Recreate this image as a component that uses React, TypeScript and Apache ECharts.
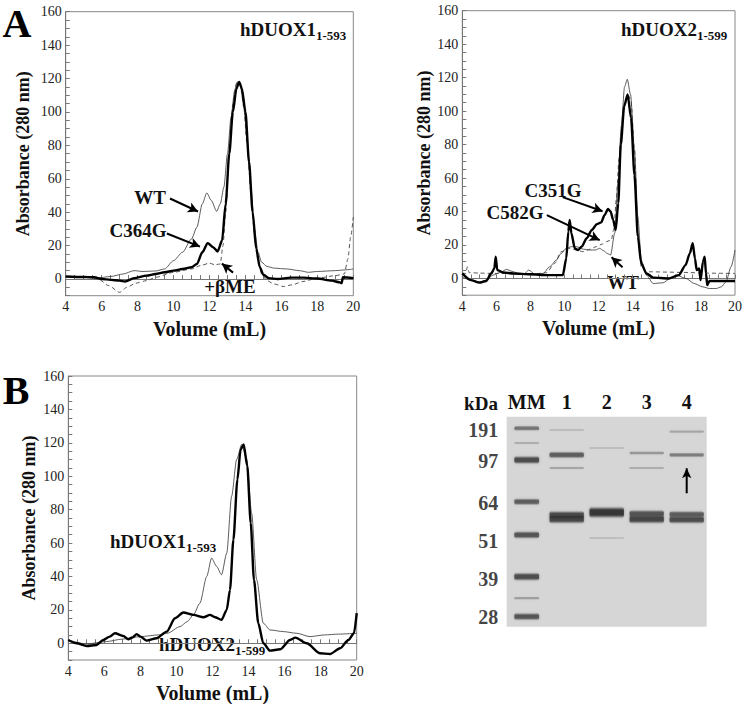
import React, { useEffect, useRef } from "react";
import * as echarts from "echarts";

const SERIF = '"Liberation Serif", "DejaVu Serif", "Times New Roman", serif';

// ---------- Panel A (left): hDUOX1 1-593 ----------
const a1WtVol = [4, 5, 5.7, 6.5, 7.2, 7.8, 8.3, 9, 9.5, 10, 10.5, 11, 11.3, 11.6, 11.85, 12.1, 12.4, 12.6, 12.8, 13.0, 13.2, 13.4, 13.55, 13.7, 13.9, 14.1, 14.3, 14.5, 14.7, 14.9, 15.2, 15.6, 16.3, 17, 17.5, 18, 19, 19.6, 20];
const a1WtAbs = [1.5, 1.2, 0.5, 1.5, 3, 5, 4.5, 4.8, 6, 11, 16, 24, 31, 45, 51.5, 47, 40.5, 45, 55, 75, 97, 113, 118, 116, 105, 82, 55, 30, 16, 10, 7.5, 6.5, 6, 5, 4, 4.5, 5, 5.5, 6];
const a1MutVol = [4, 5, 5.6, 6, 6.5, 7, 7.3, 7.8, 8.5, 9, 9.5, 10, 10.5, 11, 11.3, 11.6, 11.9, 12.2, 12.45, 12.7, 12.9, 13.1, 13.3, 13.5, 13.65, 13.8, 14.0, 14.2, 14.4, 14.6, 14.8, 15.0, 15.3, 15.8, 16.5, 17.2, 18, 18.8, 19.25, 19.35, 19.42, 20];
const a1MutAbs = [1.5, 1.2, 1, 0, -0.5, -1, -1.5, 0.5, 2, 3, 4, 5, 6, 7, 9, 16, 21.5, 19, 16.5, 23, 45, 75, 100, 114, 118, 114, 100, 70, 40, 18, 7, 2.5, 0.5, 0, 0.8, 0.8, 0.3, -1, -2, -2.5, 1, 0.5];
const a1MeVol = [4, 5, 5.8, 6.4, 7, 7.4, 7.9, 8.5, 9, 10, 11, 11.5, 12, 12.3, 12.6, 12.75, 12.9, 13.1, 13.3, 13.5, 13.6, 13.75, 13.9, 14.1, 14.3, 14.5, 14.7, 14.9, 15.2, 15.6, 16.1, 16.6, 17.2, 18, 19, 19.5, 19.7, 19.85, 20];
const a1MeAbs = [1.5, 1, 0, -4, -8, -5, -2.5, -1, 1, 4, 6, 8, 9.5, 8.5, 9, 20, 40, 75, 105, 117, 118, 115, 103, 80, 52, 27, 11, 3, -1, -3, -4.5, -3.5, -1.5, 0.5, 2, 3, 12, 25, 37];

// ---------- Panel A (right): hDUOX2 1-599 ----------
const a2C351Vol = [4, 4.5, 5.0, 5.4, 5.7, 5.88, 5.96, 6.05, 6.4, 7, 8, 9, 9.9, 10.1, 10.22, 10.3, 10.4, 10.6, 10.8, 11.0, 11.3, 11.6, 11.9, 12.15, 12.35, 12.55, 12.7, 12.85, 13.0, 13.15, 13.3, 13.5, 13.7, 13.9, 14.1, 14.3, 14.5, 14.8, 15.2, 16.1, 16.7, 17.1, 17.35, 17.52, 17.65, 17.75, 17.9, 17.98, 18.12, 18.22, 18.3, 18.37, 18.5, 19, 20];
const a2C351Abs = [3, -1, -2.5, -1.5, 3, 6, 13, 5, 3.6, 3, 2.5, 2, 2, 12, 28, 35, 27, 18, 17, 19, 24, 29, 32.5, 33.5, 38, 41.5, 40, 35, 29, 45, 80, 103, 110, 96, 62, 25, 9, 3, 0.5, 0, 2, 8, 15, 21, 12, 5, 6, -1, 10, 13, 3, -4, -1.5, -1.5, -1.5];
const a2WtVol = [4, 4.5, 5.03, 5.4, 5.8, 6.2, 6.6, 7.0, 7.3, 7.6, 7.9, 8.25, 8.74, 9.13, 9.52, 9.8, 10.1, 10.4, 10.7, 11.1, 11.47, 11.8, 12.06, 12.3, 12.5, 12.7, 12.94, 13.13, 13.33, 13.52, 13.68, 13.87, 14.1, 14.3, 14.5, 14.8, 15.2, 15.77, 16.2, 16.55, 17.13, 17.6, 18.1, 18.5, 18.9, 19.2, 19.47, 19.77, 20];
const a2WtAbs = [1, -1, -2, -1, 2, 3.5, 5.4, 4, 3, 2.6, 5, 2.6, 3, 7, 11, 15, 18, 19, 19, 17.5, 17, 17, 18, 16.5, 15, 14, 27, 57, 91, 114.5, 119, 110, 77, 37, 11, 2, -3, -2.6, 0, 2, 0, -3, -5, -6, -6, -5, -2, 7, 17];
const a2C582Vol = [4, 4.2, 4.3, 4.4, 5, 6, 7, 8, 8.94, 9.42, 9.8, 10.3, 10.7, 11.08, 11.5, 11.86, 12.2, 12.45, 12.74, 12.9, 13.03, 13.2, 13.33, 13.52, 13.72, 13.9, 14.1, 14.3, 14.5, 14.75, 15, 16, 17, 18, 19, 20];
const a2C582Abs = [3, 3, 7, 3.5, 3.2, 3, 3, 2.5, 3.4, 9, 16, 18, 17, 16, 17.5, 19, 20.5, 22, 23, 30, 47, 72, 87, 105, 110, 106, 77, 27, 7, 4.5, 4, 3.8, 3.6, 3.3, 3.1, 3];

// ---------- Panel B ----------
const bDuox1Vol = [4, 5, 6.1, 7, 8, 9, 9.5, 10.2, 10.6, 10.94, 11.3, 11.68, 11.95, 12.23, 12.5, 12.79, 13.06, 13.34, 13.62, 13.9, 14.17, 14.45, 14.82, 15.19, 15.93, 16.67, 17.41, 18.2, 19, 20];
const bDuox1Abs = [2, -0.4, 1, 2.5, 4, 5, 6, 10, 13, 17, 24, 40, 51, 46, 41, 54, 88, 110, 119, 110, 78, 38, 12, 8, 7, 6, 4, 5, 5.5, 6];
const bDuox2Vol = [4, 4.46, 5.02, 5.57, 5.94, 6.3, 6.59, 7.05, 7.33, 7.55, 7.8, 8.0, 8.35, 8.9, 9.46, 9.92, 10.38, 10.94, 11.5, 11.86, 12.14, 12.5, 12.79, 12.97, 13.16, 13.38, 13.56, 13.73, 13.93, 14.12, 14.3, 14.54, 14.82, 15.19, 15.75, 16.3, 16.6, 17.23, 17.97, 18.52, 19.08, 19.54, 19.85, 20];
const bDuox2Abs = [2, 0, -1.6, -1, 2, 4, 6, 4.4, 2.4, 3.5, 5.5, 4, 1.6, 3, 7, 15, 18.4, 17, 15.6, 17, 15.6, 14, 20, 32, 62, 98, 116, 119, 106, 72, 38, 12, 0, -4.4, -3.6, 2, 3.4, 0, -6, -6.4, -3, 2, 6, 18];

// ---------- Gel ----------
const gelLanes = ["MM", "1", "2", "3", "4"];
const markerKDa = [191, 97, 64, 51, 39, 28];
const markerRf = [0.063, 0.211, 0.411, 0.592, 0.773, 0.954];
const bandLane = [0, 0, 0, 0, 0, 0, 0, 0, 1, 1, 1, 1, 1, 2, 2, 2, 3, 3, 3, 3, 4, 4, 4, 4];
const bandRf = [0.055, 0.125, 0.206, 0.405, 0.563, 0.762, 0.864, 0.952, 0.063, 0.182, 0.244, 0.468, 0.488, 0.149, 0.456, 0.578, 0.173, 0.244, 0.462, 0.488, 0.071, 0.182, 0.465, 0.49];
const bandAmount = [0.55, 0.2, 0.8, 0.7, 0.75, 0.8, 0.3, 0.75, 0.12, 0.7, 0.25, 0.8, 0.85, 0.1, 1.0, 0.1, 0.35, 0.2, 0.75, 0.85, 0.25, 0.5, 0.7, 0.8];

const zip = (xs: number[], ys: number[]) => xs.map((x, i) => [x, ys[i]]);

function chromAxes(gi: number, yGap: number) {
  const x = {
    gridIndex: gi,
    type: "value",
    min: 4,
    max: 20,
    interval: 0.5,
    axisLine: { show: true, lineStyle: { color: "#777", width: 1 } },
    axisTick: { show: true, inside: true, length: 4, lineStyle: { color: "#777" } },
    axisLabel: {
      formatter: (v: number) => (v % 2 === 0 ? String(v) : ""),
      fontFamily: SERIF,
      fontSize: 14,
      color: "#222",
      margin: 4,
    },
    splitLine: { show: false },
    name: "Volume (mL)",
    nameLocation: "middle",
    nameGap: 23,
    nameTextStyle: { fontFamily: SERIF, fontWeight: "bold", fontSize: 20, color: "#111" },
  };
  const y = {
    gridIndex: gi,
    type: "value",
    min: -10,
    max: 160,
    interval: 5,
    axisLine: { show: true, lineStyle: { color: "#777", width: 1 } },
    axisTick: { show: true, inside: true, length: 4, lineStyle: { color: "#777" } },
    axisLabel: {
      formatter: (v: number) => (v >= 0 && v % 20 === 0 ? String(v) : ""),
      fontFamily: SERIF,
      fontSize: 14,
      color: "#222",
      margin: 4,
    },
    splitLine: { show: false },
    name: "Absorbance (280 nm)",
    nameLocation: "middle",
    nameGap: yGap,
    nameTextStyle: { fontFamily: SERIF, fontWeight: "bold", fontSize: 18, color: "#111" },
  };
  return { x, y };
}

const thin = { color: "#333", width: 0.8, type: "solid" };
const thick = { color: "#000", width: 2.4, type: "solid" };
const dashed = { color: "#444", width: 0.9, type: [4, 3] };

function lineSeries(gi: number, xs: number[], ys: number[], style: any, name: string, extra: any = {}) {
  return {
    type: "line",
    name,
    xAxisIndex: gi,
    yAxisIndex: gi,
    data: zip(xs, ys),
    showSymbol: false,
    symbol: "none",
    smooth: 0.25,
    smoothMonotone: "x",
    lineStyle: style,
    silent: true,
    z: style.width > 2 ? 4 : 3,
    ...extra,
  };
}

function arrows(pairs: number[][][]) {
  return {
    markLine: {
      silent: true,
      symbol: ["none", "arrow"],
      symbolSize: [8, 10],
      lineStyle: { color: "#000", width: 2, type: "solid" },
      label: { show: false },
      emphasis: { disabled: true },
      data: pairs.map((p) => [{ coord: p[0] }, { coord: p[1] }]),
    },
  };
}

const bold18 = { fontFamily: SERIF, fontWeight: "bold", fontSize: 19, fill: "#111" };

function label(text: string, x: number, y: number) {
  return { type: "text", x, y, style: { text, ...bold18, align: "center", verticalAlign: "middle" } };
}

function subLabel(main: string, sub: string, x: number, y: number) {
  return {
    type: "text",
    x,
    y,
    style: {
      text: `{m|${main}}{s|${sub}}`,
      fill: "#111",
      align: "left",
      verticalAlign: "top",
      rich: {
        m: { fontFamily: SERIF, fontWeight: "bold", fontSize: 19, lineHeight: 25, verticalAlign: "middle", fill: "#111" },
        s: { fontFamily: SERIF, fontWeight: "bold", fontSize: 13, lineHeight: 25, verticalAlign: "bottom", fill: "#111" },
      },
    },
  };
}

export default function App() {
  const ref = useRef<HTMLDivElement>(null);
  useEffect(() => {
    if (!ref.current) return;
    const chart = echarts.init(ref.current, undefined, { renderer: "svg" });
    const A1 = chromAxes(0, 34);
    const A2 = chromAxes(1, 28);
    const B = chromAxes(2, 30);

    const gelData = bandLane.map((l, i) => [l, bandRf[i], bandAmount[i]]);

    const option: any = {
      animation: false,
      backgroundColor: "#fff",
      grid: [
        { left: 65.7, top: 11.7, width: 287.6, height: 284, show: true, borderColor: "#888", borderWidth: 1, backgroundColor: "transparent" },
        { left: 462.3, top: 10.7, width: 273.4, height: 284.5, show: true, borderColor: "#888", borderWidth: 1, backgroundColor: "transparent" },
        { left: 68.3, top: 376, width: 288.4, height: 284, show: true, borderColor: "#888", borderWidth: 1, backgroundColor: "transparent" },
        { left: 506.7, top: 416.7, width: 200, height: 210, show: true, borderWidth: 0, backgroundColor: "#d6d6d6" },
      ],
      xAxis: [
        A1.x,
        A2.x,
        B.x,
        {
          gridIndex: 3,
          type: "category",
          data: gelLanes,
          position: "top",
          axisLine: { show: false },
          axisTick: { show: false },
          axisLabel: { interval: 0, fontFamily: SERIF, fontWeight: "bold", fontSize: 20, color: "#111", margin: 5 },
        },
      ],
      yAxis: [A1.y, A2.y, B.y, { gridIndex: 3, type: "value", min: 0, max: 1, inverse: true, show: false }],
      series: [
        // Panel A left
        lineSeries(0, a1MeVol, a1MeAbs, dashed, "+βME"),
        lineSeries(0, a1WtVol, a1WtAbs, thin, "WT"),
        lineSeries(
          0,
          a1MutVol,
          a1MutAbs,
          thick,
          "C364G",
          arrows([
            [[9.8, 48.2], [11.36, 40.4]],
            [[9.63, 27.2], [11.47, 19.4]],
            [[13.31, 3.8], [12.69, 9.2]],
          ])
        ),
        // Panel A right
        lineSeries(1, a2C582Vol, a2C582Abs, dashed, "C582G"),
        lineSeries(1, a2WtVol, a2WtAbs, thin, "WT"),
        lineSeries(
          1,
          a2C351Vol,
          a2C351Abs,
          thick,
          "C351G",
          arrows([
            [[9.89, 48.6], [12.23, 40.2]],
            [[8.96, 37.8], [12.06, 22.9]],
            [[13.4, 6.75], [12.76, 12.7]],
          ])
        ),
        // Panel B
        lineSeries(2, bDuox1Vol, bDuox1Abs, thin, "hDUOX1"),
        lineSeries(2, bDuox2Vol, bDuox2Abs, thick, "hDUOX2"),
        // Gel bands
        {
          type: "custom",
          xAxisIndex: 3,
          yAxisIndex: 3,
          data: gelData,
          silent: true,
          clip: false,
          renderItem: (params: any, api: any) => {
            const lane = api.value(0);
            const rf = api.value(1);
            const amt = api.value(2);
            const c = api.coord([lane, rf]);
            const laneW = api.size([1, 0])[0];
            const w = laneW * (lane === 0 ? 0.62 : 0.86);
            const h = 2.5 + 9 * amt * amt;
            const a = 0.06 + 0.82 * amt;
            const col = (al: number) => `rgba(40,40,40,${al})`;
            return {
              type: "rect",
              shape: { x: c[0] - w / 2, y: c[1] - h / 2, width: w, height: h, r: Math.min(3, h / 2) },
              style: {
                fill: new echarts.graphic.LinearGradient(0, 0, 0, 1, [
                  { offset: 0, color: col(0) },
                  { offset: 0.3, color: col(a) },
                  { offset: 0.7, color: col(a) },
                  { offset: 1, color: col(0) },
                ]),
                shadowBlur: 3,
                shadowColor: col(a * 0.5),
              },
            };
          },
        },
        // Marker lane labels
        {
          type: "scatter",
          xAxisIndex: 3,
          yAxisIndex: 3,
          data: markerRf.map((rf, i) => [0, rf, markerKDa[i]]),
          symbolSize: 1,
          itemStyle: { color: "transparent" },
          silent: true,
          label: {
            show: true,
            position: "left",
            distance: 28,
            formatter: (p: any) => String(p.value[2]),
            fontFamily: SERIF,
            fontWeight: "bold",
            fontSize: 20,
            color: "#111",
          },
        },
        // Arrow in lane 4
        {
          type: "line",
          xAxisIndex: 3,
          yAxisIndex: 3,
          silent: true,
          data: [
            { value: [4, 0.365], symbol: "none" },
            { value: [4, 0.245], symbol: "arrow", symbolSize: [7, 10] },
          ],
          showSymbol: true,
          lineStyle: { color: "#000", width: 2 },
          itemStyle: { color: "#000" },
        },
      ],
      graphic: [
        { type: "text", x: 17, y: 23, style: { text: "A", fontFamily: SERIF, fontWeight: "bold", fontSize: 40, fill: "#000", align: "center", verticalAlign: "middle" } },
        { type: "text", x: 16, y: 390, style: { text: "B", fontFamily: SERIF, fontWeight: "bold", fontSize: 40, fill: "#000", align: "center", verticalAlign: "middle" } },
        subLabel("hDUOX1", "1-593", 240, 17),
        label("WT", 150, 197),
        label("C364G", 138, 230),
        label("+βME", 230, 286),
        subLabel("hDUOX2", "1-599", 621, 17),
        label("C351G", 553, 190),
        label("C582G", 515, 212),
        label("WT", 623, 282),
        subLabel("hDUOX1", "1-593", 110, 529),
        subLabel("hDUOX2", "1-599", 159, 632),
        label("kDa", 481, 403),
      ],
    };
    chart.setOption(option);
    return () => chart.dispose();
  }, []);
  return (
    <div
      ref={ref}
      style={{ position: "fixed", left: 0, top: 0, width: 745, height: 704, background: "#fff" }}
    />
  );
}
